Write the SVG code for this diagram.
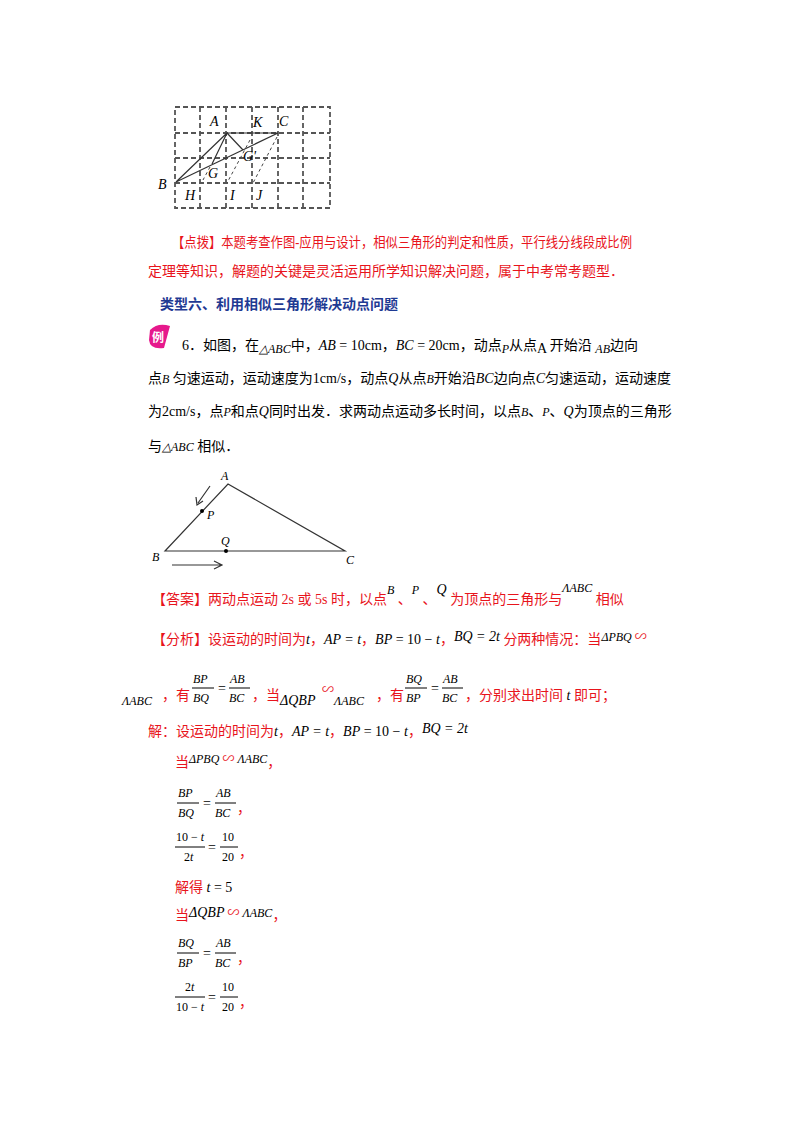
<svg xmlns="http://www.w3.org/2000/svg" width="800" height="1132" viewBox="0 0 800 1132">
<style>
text{font-family:"Liberation Serif","Noto Sans CJK SC",serif;font-size:14px;fill:#000}
.r{fill:#e8141c}
.b{fill:#1f3a93;font-weight:bold}
.m{font-style:italic;font-family:"Liberation Serif",serif}
.s{font-size:12px}
.k{fill:#000}
.g{stroke:#555;stroke-width:1.8;stroke-dasharray:5,3;fill:none}
.l{stroke:#333;stroke-width:1.2;fill:none}
.d{stroke:#444;stroke-width:1;stroke-dasharray:3,3;fill:none}
</style>
<rect width="800" height="1132" fill="#fff"/>
<g id="grid">
<rect x="175" y="107" width="155" height="101" class="g"/>
<path class="g" d="M200 107V208M226 107V208M252 107V208M278 107V208M303 107V208M175 133H330M175 158H330M175 183H330"/>
<path class="l" d="M227 133H278M176 182L227 133M176 182L278 133M227 133L243 150M227 133L212 164"/>
<path class="d" d="M277 137L253 183M250 140L227 183M210 167L203 180"/>
<text x="210" y="126" class="m">A</text><text x="253" y="127" class="m">K</text><text x="279" y="126" class="m">C</text>
<text x="243" y="161" class="m">G'</text><text x="208" y="178" class="m">G</text><text x="158" y="189" class="m">B</text>
<text x="185" y="200" class="m">H</text><text x="230" y="200" class="m">I</text><text x="256" y="200" class="m">J</text>
</g>
<text x="172" y="247" class="r" textLength="460" lengthAdjust="spacingAndGlyphs">【点拨】本题考查作图-应用与设计，相似三角形的判定和性质，平行线分线段成比例</text>
<text x="148" y="276" class="r">定理等知识，解题的关键是灵活运用所学知识解决问题，属于中考常考题型．</text>
<text x="160" y="309" class="b">类型六、利用相似三角形解决动点问题</text>
<g id="badge"><path d="M150 330Q158 322 170 326L164 348Q150 350 149 340Z" fill="#e6198c"/><text x="152" y="342" style="fill:#fff;font-size:12px;font-weight:bold">例</text></g>
<text x="182" y="350">6．如图，在<tspan class="m s" dy="3">△ABC</tspan><tspan dy="-3">中，</tspan><tspan class="m">AB</tspan> = 10cm，<tspan class="m">BC</tspan> = 20cm，动点<tspan class="m s" dy="3">P</tspan><tspan dy="-3">从点</tspan><tspan dy="3">A</tspan><tspan dy="-3"> 开始沿 </tspan><tspan class="m s" dy="3">AB</tspan><tspan dy="-3">边向</tspan></text>
<text x="148" y="383">点<tspan class="m s">B</tspan> 匀速运动，运动速度为1cm/s，动点<tspan class="m">Q</tspan>从点<tspan class="m s">B</tspan>开始沿<tspan class="m">BC</tspan>边向点<tspan class="m">C</tspan>匀速运动，运动速度</text>
<text x="148" y="416">为2cm/s，点<tspan class="m s">P</tspan>和点<tspan class="m">Q</tspan>同时出发．求两动点运动多长时间，以点<tspan class="m s">B</tspan>、<tspan class="m s">P</tspan>、<tspan class="m">Q</tspan>为顶点的三角形</text>
<text x="148" y="451">与<tspan class="m s">△ABC</tspan> 相似．</text>
<g id="triangle">
<path class="l" d="M165 551L228 484L345 551Z"/>
<circle cx="202" cy="511" r="2"/><circle cx="226" cy="551" r="2"/>
<path class="l" d="M210 486L198 503M196 497L197 505L203 501M172 565H222M214 561L222 565L214 569"/>
<text x="221" y="480" class="m s">A</text><text x="207" y="519" class="m s">P</text><text x="152" y="561" class="m s">B</text><text x="221" y="545" class="m s">Q</text><text x="346" y="564" class="m s">C</text>
</g>
<text x="152" y="604" class="r">【答案】两动点运动 2s 或 5s 时，以点<tspan class="m s k" dy="-10">B</tspan><tspan dy="10"> 、</tspan><tspan class="m s k" dy="-10">P</tspan><tspan dy="10"> 、</tspan><tspan class="m k" dy="-10">Q</tspan><tspan dy="10"> 为顶点的三角形与</tspan><tspan class="m s k" dy="-12">ΛABC</tspan><tspan dy="12"> 相似</tspan></text>
<text x="152" y="644" class="r">【分析】设运动的时间为<tspan class="m k">t</tspan>，<tspan class="m k">AP = t</tspan>，<tspan class="m k">BP</tspan><tspan class="k"> = 10 − </tspan><tspan class="m k">t</tspan>，<tspan class="m k" dy="-3">BQ = 2t</tspan><tspan dy="3"> 分两种情况：当</tspan><tspan class="m s k" dy="-3">ΔPBQ </tspan><tspan class="s">∽</tspan></text>
<g id="analysis">
<text x="122" y="705" class="m s">ΛABC</text><text x="162" y="700" class="r">，有</text>
<text x="193" y="683" class="m s">BP</text><text x="193" y="702" class="m s">BQ</text><line x1="192" y1="688" x2="214" y2="688" stroke="#000"/>
<text x="218" y="693">=</text>
<text x="230" y="683" class="m s">AB</text><text x="229" y="702" class="m s">BC</text><line x1="229" y1="688" x2="250" y2="688" stroke="#000"/>
<text x="252" y="700" class="r">，当</text>
<text x="280" y="705" class="m">ΔQBP</text><text x="322" y="694" class="s r">∽</text><text x="334" y="705" class="m s">ΛABC</text><text x="376" y="700" class="r">，有</text>
<text x="406" y="683" class="m s">BQ</text><text x="406" y="702" class="m s">BP</text><line x1="405" y1="688" x2="427" y2="688" stroke="#000"/>
<text x="431" y="693">=</text>
<text x="443" y="683" class="m s">AB</text><text x="442" y="702" class="m s">BC</text><line x1="442" y1="688" x2="463" y2="688" stroke="#000"/>
<text x="465" y="700" class="r">，分别求出时间 <tspan class="m k">t</tspan> 即可；</text>
</g>
<text x="148" y="736" class="r">解：设运动的时间为<tspan class="m k">t</tspan>，<tspan class="m k">AP = t</tspan>，<tspan class="m k">BP</tspan><tspan class="k"> = 10 − </tspan><tspan class="m k">t</tspan>，<tspan class="m k" dy="-3">BQ = 2t</tspan></text>
<text x="175" y="767" class="r">当<tspan class="m s k" dy="-4">ΔPBQ </tspan><tspan class="s" dy="0">∽</tspan><tspan class="m s k"> ΛABC</tspan><tspan dy="4">，</tspan></text>
<g id="sol">
<text x="178" y="797" class="m s">BP</text><text x="178" y="817" class="m s">BQ</text><line x1="177" y1="803" x2="199" y2="803" stroke="#000"/>
<text x="203" y="808">=</text>
<text x="216" y="797" class="m s">AB</text><text x="215" y="817" class="m s">BC</text><line x1="215" y1="803" x2="236" y2="803" stroke="#000"/>
<text x="237" y="813" class="r">，</text>
<text x="176" y="841" class="s">10 − <tspan class="m">t</tspan></text><text x="184" y="861" class="s">2<tspan class="m">t</tspan></text><line x1="175" y1="847" x2="205" y2="847" stroke="#000"/>
<text x="208" y="852">=</text>
<text x="222" y="841" class="s">10</text><text x="222" y="861" class="s">20</text><line x1="220" y1="847" x2="238" y2="847" stroke="#000"/>
<text x="239" y="857" class="r">，</text>
<text x="175" y="892" class="r">解得 <tspan class="m k">t</tspan><tspan class="k"> = 5</tspan></text>
<text x="175" y="920" class="r">当<tspan class="m k" dy="-3">ΔQBP</tspan><tspan class="s"> ∽ </tspan><tspan class="m s k">ΛABC</tspan><tspan dy="3">，</tspan></text>
<text x="178" y="947" class="m s">BQ</text><text x="178" y="967" class="m s">BP</text><line x1="177" y1="953" x2="199" y2="953" stroke="#000"/>
<text x="203" y="958">=</text>
<text x="216" y="947" class="m s">AB</text><text x="215" y="967" class="m s">BC</text><line x1="215" y1="953" x2="236" y2="953" stroke="#000"/>
<text x="237" y="963" class="r">，</text>
<text x="185" y="991" class="s">2<tspan class="m">t</tspan></text><text x="176" y="1011" class="s">10 − <tspan class="m">t</tspan></text><line x1="175" y1="997" x2="205" y2="997" stroke="#000"/>
<text x="208" y="1002">=</text>
<text x="222" y="991" class="s">10</text><text x="222" y="1011" class="s">20</text><line x1="220" y1="997" x2="238" y2="997" stroke="#000"/>
<text x="239" y="1007" class="r">，</text>
</g>
</svg>
